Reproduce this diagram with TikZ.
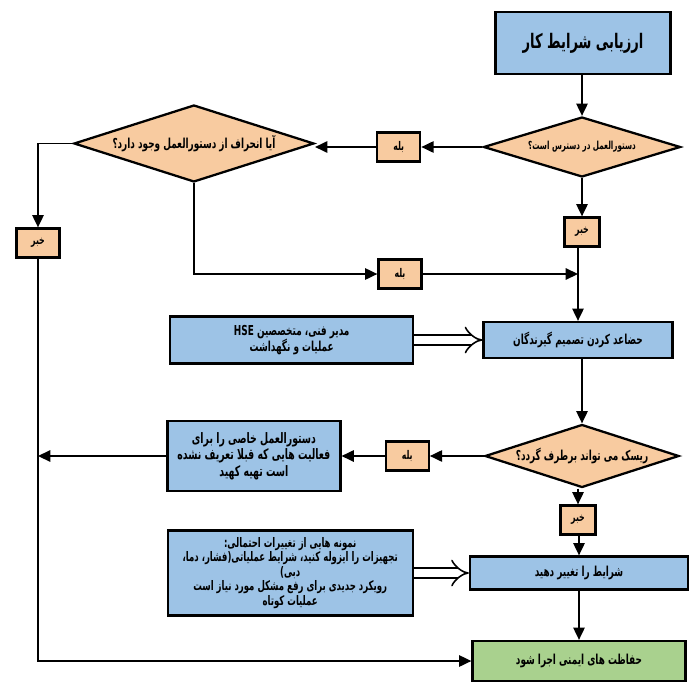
\documentclass[tikz,border=0pt]{standalone}
\usepackage{fontspec}
\usepackage{xcolor}
\newfontfamily\fafont[Script=Arabic, FakeStretch=0.65]{DejaVu Sans}
\TeXXeTstate=1
\newcommand{\fa}[1]{\beginR #1\endR}
\usetikzlibrary{arrows.meta,shapes.geometric,positioning}

\definecolor{boxblue}{RGB}{157,195,230}
\definecolor{boxorange}{RGB}{248,203,160}
\definecolor{boxgreen}{RGB}{169,209,142}

\tikzset{
  blk/.style={rectangle, draw=black, line width=1.3pt, fill=#1, align=center,
              font=\fafont\bfseries\fontsize{7.8}{9.2}\selectfont, inner sep=2pt},
  blk/.default=boxblue,
  ask/.style={diamond, draw=black, line width=1.3pt, fill=boxorange, aspect=3,
              inner sep=0pt, font=\fafont\bfseries\fontsize{7.8}{9}\selectfont},
  tag/.style={rectangle, draw=black, line width=1.3pt, fill=boxorange,
              minimum width=0.86cm, minimum height=0.58cm, inner sep=1pt,
              font=\fafont\bfseries\fontsize{6.8}{8}\selectfont},
  arr/.style={-{Triangle[length=7pt,width=6.5pt]}, line width=0.9pt},
  fatarr/.style={double, double distance=4.5pt, line width=0.9pt, -{Implies[scale=1.4]}},
}

\begin{document}
\begin{tikzpicture}
\useasboundingbox (0,0) rectangle (14,-14);

% main column
\node[blk, minimum width=3.5cm, minimum height=1.24cm, font=\fafont\bfseries\fontsize{11.4}{13}\selectfont] (start) at (11.66,-0.86) {\fa{ارزیابی شرایط کار}};
\node[ask, minimum width=3.94cm, minimum height=1.2cm, font=\fafont\bfseries\fontsize{6.3}{7}\selectfont] (avail) at (11.64,-2.94) {\fa{دستورالعمل در دسترس است؟}};
\node[tag, minimum width=0.7cm] (no2) at (11.64,-4.64) {\fa{خبر}};
\node[blk, minimum width=3.78cm, minimum height=0.72cm] (people) at (11.56,-6.8) {\fa{حضاعد کردن تصمیم گیرندگان}};
\node[ask, minimum width=3.88cm, minimum height=1.26cm] (risk) at (11.64,-9.12) {\fa{ریسک می تواند برطرف گردد؟}};
\node[tag, minimum width=0.7cm] (no3) at (11.56,-10.4) {\fa{خبر}};
\node[blk, minimum width=4.36cm, minimum height=0.66cm] (change) at (11.58,-11.46) {\fa{شرایط را تغییر دهید}};
\node[blk=boxgreen, minimum width=4.26cm, minimum height=0.8cm] (safe) at (11.58,-13.22) {\fa{حفاظت های ایمنی اجرا شود}};

% left side
\node[tag, left=1.22cm of avail] (yes1) {\fa{بله}};
\node[ask, minimum width=4.8cm, minimum height=1.54cm, left=1.22cm of yes1, yshift=2pt] (dev) {\fa{آیا انحراف از دستورالعمل وجود دارد؟}};
\node[tag] (no1) at (0.76,-4.86) {\fa{خبر}};
\node[tag] (yes2) at (8.0,-5.48) {\fa{بله}};
\node[blk, minimum width=4.86cm, minimum height=0.94cm, left=1.36cm of people] (staff)
  {\fa{مدیر فنی، متخصصین \beginL HSE\endL}\\ \fa{عملیات و نگهداشت}};
\node[tag, left=1.08cm of risk] (yes3) {\fa{بله}};
\node[blk, minimum width=3.46cm, minimum height=1.4cm, font=\fafont\bfseries\fontsize{8.2}{9.4}\selectfont, left=0.86cm of yes3] (newproc)
  {\fa{دستورالعمل خاصی را برای}\\ \fa{فعالیت هایی که قبلا تعریف نشده}\\ \fa{است تهیه کهید}};
\node[blk, minimum width=4.9cm, minimum height=1.7cm, left=1.1cm of change, inner sep=1pt,
      font=\fafont\bfseries\fontsize{7.5}{8.2}\selectfont] (samples)
  {\fa{نمونه هایی از تغییرات احتمالی:}\\ \fa{تجهیزات را ایزوله کنید، شرایط عملیاتی(فشار، دما،}\\ \fa{دبی)}\\
   \fa{رویکرد جدیدی برای رفع مشکل مورد نیاز است}\\ \fa{عملیات کوتاه}};

% connectors
\draw[arr] (start.south -| avail) -- (avail);
\draw[arr] (avail) -- (no2);
\draw[arr] (no2.south -| people) -- (people);
\draw[arr] (people.south -| risk) -- (risk);
\draw[arr] (risk.south -| no3) -- (no3);
\draw[arr] (no3.south -| change) -- (change);
\draw[arr] (change) -- (safe);

\draw[arr] (avail) -- (yes1);
\draw[arr] (yes1) -- (yes1 -| dev.east);
\draw[arr] (dev.west) -| (no1);
\draw[arr] (no1) |- (safe);
\draw[arr] (dev.south) |- (yes2);
\draw[arr] (yes2) -- (yes2 -| people);
\draw[fatarr] (staff) -- (people);
\draw[arr] (risk) -- (yes3);
\draw[arr] (yes3) -- (newproc);
\draw[arr] (newproc) -- (newproc -| no1);
\draw[fatarr] (samples) -- (change);

\end{tikzpicture}
\end{document}
